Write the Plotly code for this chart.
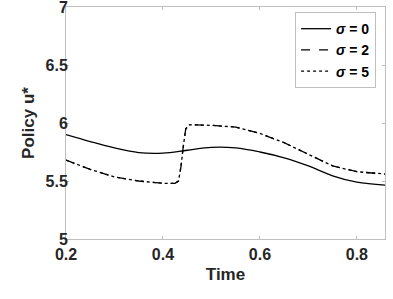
import plotly.graph_objects as go

t0 = [0.2, 0.25, 0.3, 0.35, 0.4, 0.45, 0.5, 0.55, 0.6, 0.65, 0.7, 0.75, 0.8, 0.858]
u0 = [5.90, 5.84, 5.785, 5.745, 5.74, 5.765, 5.79, 5.785, 5.75, 5.70, 5.63, 5.545, 5.49, 5.465]

t2 = [0.2, 0.25, 0.3, 0.35, 0.4, 0.425, 0.432, 0.437, 0.442, 0.447, 0.455, 0.5, 0.55, 0.6, 0.65, 0.7, 0.75, 0.8, 0.858]
u2 = [5.68, 5.60, 5.535, 5.50, 5.48, 5.48, 5.50, 5.62, 5.80, 5.95, 5.985, 5.98, 5.965, 5.91, 5.83, 5.73, 5.63, 5.58, 5.56]
t5 = list(t2)
u5 = list(u2)

labels = ["<i>σ</i> = 0", "<i>σ</i> = 2", "<i>σ</i> = 5"]
x_ticks = [0.2, 0.4, 0.6, 0.8]
y_ticks = [5, 5.5, 6, 6.5, 7]
y_tick_text = ["5", "5.5", "6", "6.5", "7"]

fig = go.Figure()
fig.add_trace(go.Scatter(x=t0, y=u0, mode="lines", name=labels[0],
                         line=dict(color="black", width=1.3, shape="spline", dash="solid")))
fig.add_trace(go.Scatter(x=t2, y=u2, mode="lines", name=labels[1],
                         line=dict(color="black", width=1.3, dash="dash")))
fig.add_trace(go.Scatter(x=t5, y=u5, mode="lines", name=labels[2],
                         line=dict(color="black", width=1.3, dash="dot")))

axis_common = dict(showgrid=False, zeroline=False, showline=True, linecolor="#bfbfbf",
                   linewidth=1, mirror="ticks", ticks="inside", ticklen=3, tickcolor="#bfbfbf",
                   automargin=False, ticklabeloverflow="allow",
                   tickfont=dict(family="Liberation Sans, Arial", size=16, color="#262626",
                                 weight="bold"))

fig.update_layout(
    width=393, height=299,
    margin=dict(l=66, r=8, t=7, b=60),
    paper_bgcolor="white", plot_bgcolor="white",
    font=dict(family="Liberation Sans, Arial", color="#262626"),
    xaxis=dict(range=[0.2, 0.858], tickvals=x_ticks, ticktext=[str(v) for v in x_ticks],
               ticklabelstandoff=1,
               title=dict(text="<b>Time</b>", font=dict(size=17, color="#262626"), standoff=5),
               **axis_common),
    yaxis=dict(range=[5, 7], tickvals=y_ticks, ticktext=y_tick_text,
               ticklabelstandoff=-6,
               title=dict(text="<b>Policy u*</b>", font=dict(size=17, color="#262626"), standoff=6),
               **axis_common),
    showlegend=True,
    legend=dict(x=0.972, y=0.978, xanchor="right", yanchor="top",
                bgcolor="white", bordercolor="#bfbfbf", borderwidth=1,
                font=dict(family="Liberation Sans, Arial", size=14, color="black", weight="bold"),
                itemwidth=30, tracegroupgap=0),
)

fig.write_html("out.html", post_script="document.body.style.margin='0';",
               config={"displayModeBar": False})
